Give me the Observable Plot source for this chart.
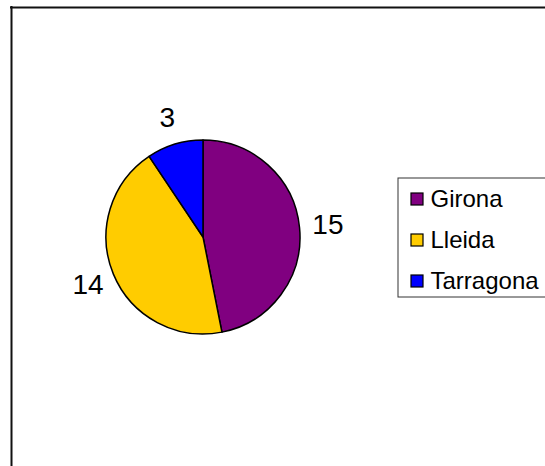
<!DOCTYPE html>
<html>
<head>
<meta charset="utf-8">
<script src="https://cdn.jsdelivr.net/npm/d3@7"></script>
<script src="https://cdn.jsdelivr.net/npm/@observablehq/plot@0.6"></script>
<style>
  html, body { margin: 0; padding: 0; background: #fff; }
  svg { display: block; }
</style>
</head>
<body>
<div id="chart"></div>
<script>
const categories = ["Girona", "Lleida", "Tarragona"];
const values = [15, 14, 3];
const colors = ["#800080", "#FFCC00", "#0000FF"];

const W = 545, H = 466;
const cx = 203, cy = 237, R = 97, labelR = 125;
const font = "'Liberation Sans', Arial, sans-serif";

const data = categories.map((c, i) => ({category: c, value: values[i], color: colors[i]}));
const arcs = d3.pie().sort(null).value(d => d.value)(data);
const arcGen = d3.arc().innerRadius(0).outerRadius(R);

const labels = arcs.map(a => {
  const m = (a.startAngle + a.endAngle) / 2;
  return {text: String(a.data.value), x: cx + labelR * Math.sin(m), y: cy - labelR * Math.cos(m)};
});

const legendX = 398, legendTop = 178, legendBottom = 297;
const rowY = i => 199 + i * 41;

const pieMark = () => {
  const g = d3.create("svg:g").attr("transform", `translate(${cx},${cy})`);
  g.selectAll("path").data(arcs).join("path")
    .attr("d", arcGen)
    .attr("fill", d => d.data.color)
    .attr("stroke", "#000")
    .attr("stroke-width", 1.5)
    .attr("stroke-linejoin", "round");
  return g.node();
};

const chart = Plot.plot({
  width: W,
  height: H,
  margin: 0,
  x: {type: "identity", axis: null},
  y: {type: "identity", axis: null},
  style: {background: "#fff", fontFamily: font},
  marks: [
    // outer chart frame (top and left visible)
    Plot.ruleY([7], {x1: 10, x2: W, stroke: "#111", strokeWidth: 2}),
    Plot.ruleX([11], {y1: 6, y2: H, stroke: "#111", strokeWidth: 2}),
    pieMark,
    Plot.text(labels, {x: "x", y: "y", text: "text", fontSize: 28, fill: "#000", fontFamily: font, textAnchor: "middle", lineAnchor: "middle"}),
    // legend box
    Plot.rect([0], {x1: legendX, x2: W + 5, y1: legendTop, y2: legendBottom, fill: "#fff", stroke: "#333", strokeWidth: 1}),
    Plot.rect(data, {x1: 411, x2: 423, y1: (d, i) => rowY(i) - 6, y2: (d, i) => rowY(i) + 6, fill: "color", stroke: "#000", strokeWidth: 1.2}),
    Plot.text(data, {x: 430, y: (d, i) => rowY(i), text: "category", fontSize: 24, fill: "#000", fontFamily: font, textAnchor: "start", lineAnchor: "middle"})
  ]
});
document.getElementById("chart").append(chart);
</script>
</body>
</html>
